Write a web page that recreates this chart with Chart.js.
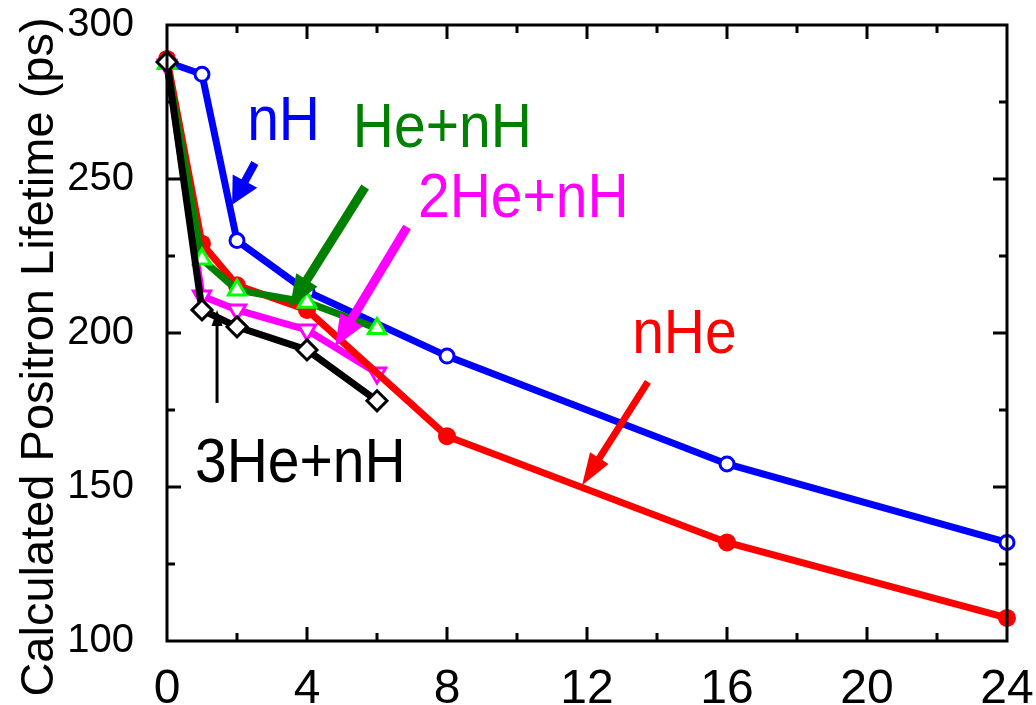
<!DOCTYPE html>
<html>
<head>
<meta charset="utf-8">
<script src="https://cdn.jsdelivr.net/npm/chart.js@4.4.1/dist/chart.umd.min.js"></script>
<style>
  html, body { margin: 0; padding: 0; background: #fff; }
  #wrap { width: 1036px; height: 705px; }
</style>
</head>
<body>
<div id="wrap"><canvas id="chart" width="1036" height="705"></canvas></div>
<script>
// series data (x = number of atoms, y = lifetime in ps)
const nHX = [0, 1, 2, 4, 8, 16, 24];
const nHY = [288, 284, 230, 213.5, 192.5, 157.5, 132];
const nHeX = [0, 1, 2, 4, 8, 16, 24];
const nHeY = [289, 229, 215.5, 207.5, 166.5, 132, 107.5];
const heNHX = [0, 1, 2, 4, 6];
const heNHY = [287.5, 224, 214, 210, 201.5];
const twoHeNHX = [0, 1, 2, 4, 6];
const twoHeNHY = [287, 212, 207.5, 201, 187];
const threeHeNHX = [0, 1, 2, 4, 6];
const threeHeNHY = [288, 207.5, 202, 194.5, 178];

const xTicks = [0, 4, 8, 12, 16, 20, 24];
const yTicks = [100, 150, 200, 250, 300];
const yTitle = "Calculated Positron Lifetime (ps)";

// annotation labels and arrows, in data units
const notes = [
  { text: "nH", color: "#0000ff", x: 2.29, y: 262.7, from: [2.51, 255.2], to: [1.86, 241.6], w: 8, head: 27, hw: 28 },
  { text: "He+nH", color: "#008000", x: 5.31, y: 260.4, from: [5.66, 247.4], to: [3.51, 208.4], w: 9, head: 32, hw: 25 },
  { text: "2He+nH", color: "#ff00ff", x: 7.17, y: 237.7, from: [6.86, 234.4], to: [4.80, 195.5], w: 9, head: 32, hw: 26 },
  { text: "nHe", color: "#ff0000", x: 13.29, y: 193.5, from: [13.74, 184.1], to: [11.86, 150.6], w: 7, head: 32, hw: 22 },
  { text: "3He+nH", color: "#000000", x: 0.80, y: 151.6, from: [1.43, 177.3], to: [1.43, 207.5], w: 3, head: 16, hw: 11 }
];

const FONT = "'Liberation Sans', Arial, sans-serif";

function pts(xs, ys) {
  return xs.map((x, i) => ({ x: x, y: ys[i] }));
}

function arrow(ctx, x1, y1, x2, y2, color, w, head, hw) {
  const ang = Math.atan2(y2 - y1, x2 - x1);
  const bx = x2 - Math.cos(ang) * head;
  const by = y2 - Math.sin(ang) * head;
  ctx.strokeStyle = color;
  ctx.fillStyle = color;
  ctx.lineWidth = w;
  ctx.lineCap = "butt";
  ctx.beginPath();
  ctx.moveTo(x1, y1);
  ctx.lineTo(bx + Math.cos(ang) * 2, by + Math.sin(ang) * 2);
  ctx.stroke();
  const px = -Math.sin(ang) * hw / 2, py = Math.cos(ang) * hw / 2;
  ctx.beginPath();
  ctx.moveTo(x2, y2);
  ctx.lineTo(bx + px, by + py);
  ctx.lineTo(bx - px, by - py);
  ctx.closePath();
  ctx.fill();
}

const framePlugin = {
  id: "frame",
  afterDatasetsDraw(chart) {
    const ctx = chart.ctx;
    const a = chart.chartArea;
    const xs = chart.scales.x, ys = chart.scales.y;
    ctx.save();

    // arrows and labels
    notes.forEach(n => {
      arrow(ctx, xs.getPixelForValue(n.from[0]), ys.getPixelForValue(n.from[1]),
        xs.getPixelForValue(n.to[0]), ys.getPixelForValue(n.to[1]), n.color, n.w, n.head, n.hw);
      ctx.save();
      ctx.translate(xs.getPixelForValue(n.x), ys.getPixelForValue(n.y));
      ctx.scale(1, 1.12);
      ctx.font = "57px " + FONT;
      ctx.fillStyle = n.color;
      ctx.textAlign = "left";
      ctx.textBaseline = "alphabetic";
      ctx.fillText(n.text, 0, 0);
      ctx.restore();
    });

    // box + inward ticks
    ctx.strokeStyle = "#000";
    ctx.lineWidth = 3;
    ctx.lineCap = "butt";
    ctx.beginPath();
    for (let v = 2; v < 24; v += 2) {
      const p = xs.getPixelForValue(v);
      const len = v % 4 === 0 ? 14 : 8;
      ctx.moveTo(p, a.bottom); ctx.lineTo(p, a.bottom - len);
      ctx.moveTo(p, a.top); ctx.lineTo(p, a.top + len);
    }
    for (let v = 125; v < 300; v += 25) {
      const p = ys.getPixelForValue(v);
      const len = v % 50 === 0 ? 14 : 8;
      ctx.moveTo(a.left, p); ctx.lineTo(a.left + len, p);
      ctx.moveTo(a.right, p); ctx.lineTo(a.right - len, p);
    }
    ctx.stroke();
    ctx.strokeRect(a.left, a.top, a.right - a.left, a.bottom - a.top);

    // y axis title
    ctx.translate(40, 357);
    ctx.rotate(-Math.PI / 2);
    ctx.font = "47px " + FONT;
    ctx.fillStyle = "#000";
    ctx.textAlign = "center";
    ctx.textBaseline = "middle";
    ctx.fillText(yTitle, 0, 0);
    ctx.restore();
  }
};

function noPad(s) {
  s.paddingLeft = 0; s.paddingRight = 0; s.paddingTop = 0; s.paddingBottom = 0;
}

new Chart(document.getElementById("chart"), {
  type: "scatter",
  data: {
    datasets: [
      {
        label: "3He+nH", data: pts(threeHeNHX, threeHeNHY), showLine: true,
        borderColor: "#000000", borderWidth: 7,
        pointStyle: "rectRot", pointRadius: 10, pointBorderWidth: 3,
        pointBorderColor: "#000000", pointBackgroundColor: "#ffffff"
      },
      {
        label: "He+nH", data: pts(heNHX, heNHY), showLine: true,
        borderColor: "#008000", borderWidth: 7,
        pointStyle: "triangle", pointRadius: 10, pointBorderWidth: 3,
        pointBorderColor: "#00ff00", pointBackgroundColor: "#ffffff"
      },
      {
        label: "nHe", data: pts(nHeX, nHeY), showLine: true,
        borderColor: "#ff0000", borderWidth: 7,
        pointStyle: "circle", pointRadius: 9, pointBorderWidth: 0,
        pointBorderColor: "#ff0000", pointBackgroundColor: "#ff0000"
      },
      {
        label: "2He+nH", data: pts(twoHeNHX, twoHeNHY), showLine: true,
        borderColor: "#ff00ff", borderWidth: 7,
        pointStyle: "triangle", pointRotation: 180, pointRadius: 10, pointBorderWidth: 3,
        pointBorderColor: "#ff00ff", pointBackgroundColor: "#ffffff"
      },
      {
        label: "nH", data: pts(nHX, nHY), showLine: true,
        borderColor: "#0000ff", borderWidth: 7,
        pointStyle: "circle", pointRadius: 7, pointBorderWidth: 3,
        pointBorderColor: "#0000ff", pointBackgroundColor: "#ffffff"
      }
    ]
  },
  options: {
    responsive: false,
    animation: false,
    clip: false,
    layout: { padding: { top: 25, right: 29, bottom: 0, left: 0 } },
    plugins: { legend: { display: false }, tooltip: { enabled: false } },
    scales: {
      x: {
        type: "linear", min: 0, max: 24,
        afterBuildTicks: s => { s.ticks = xTicks.map(v => ({ value: v })); },
        afterFit: s => { s.height = 64; noPad(s); },
        grid: { display: false }, border: { display: false },
        ticks: { color: "#000", padding: 12, maxRotation: 0, font: { family: FONT, size: 48 } }
      },
      y: {
        type: "linear", min: 100, max: 300,
        afterBuildTicks: s => { s.ticks = yTicks.map(v => ({ value: v })); },
        afterFit: s => { s.width = 167; noPad(s); },
        grid: { display: false }, border: { display: false },
        ticks: { color: "#000", padding: 25, font: { family: FONT, size: 40 } }
      }
    }
  },
  plugins: [framePlugin]
});
</script>
</body>
</html>
